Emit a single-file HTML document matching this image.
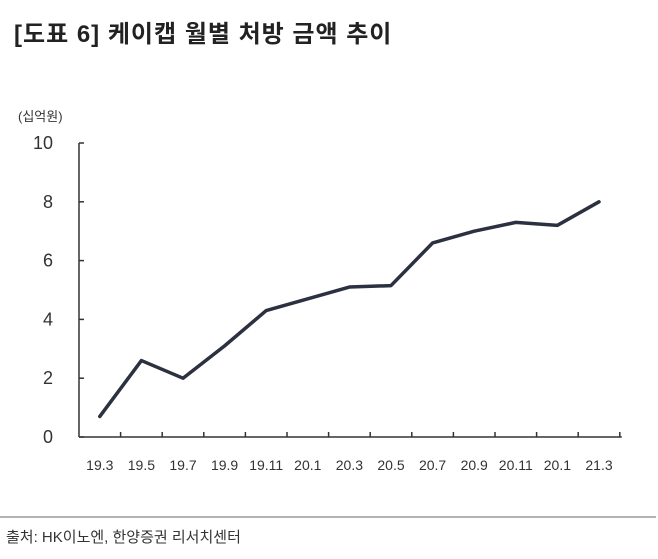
<!DOCTYPE html>
<html><head><meta charset="utf-8"><style>
body{margin:0;background:#fff;width:658px;height:559px;overflow:hidden;font-family:"Liberation Sans","Noto Sans CJK KR",sans-serif}
svg{display:block}
</style></head><body>
<svg width="658" height="559" xmlns="http://www.w3.org/2000/svg" font-family="Liberation Sans, Noto Sans CJK KR, sans-serif">
<text x="14" y="42" font-size="24" font-weight="bold" letter-spacing="1" fill="#222">[도표 6] 케이캡 월별 처방 금액 추이</text>
<text x="18" y="121" font-size="13" fill="#333">(십억원)</text>
<g id="axes"></g>
<line x1="0" y1="517" x2="656" y2="517" stroke="#888" stroke-width="1.2"/>
<text x="6" y="542" font-size="15" fill="#333">출처: HK이노엔, 한양증권 리서치센터</text>
</svg>
<script>
const categories=["19.3","19.5","19.7","19.9","19.11","20.1","20.3","20.5","20.7","20.9","20.11","20.1","21.3"];
const values=[0.7,2.6,2.0,3.1,4.3,4.7,5.1,5.15,6.6,7.0,7.3,7.2,8.0];
const yTicks=[0,2,4,6,8,10];
const NS="http://www.w3.org/2000/svg";
const g=document.getElementById('axes');
const x0=79,band=41.6,yBase=437,yTop=143,yMax=10;
const xs=i=>x0+band*(i+0.5);
const ys=v=>yBase-(v/yMax)*(yBase-yTop);
function mk(t,a){const e=document.createElementNS(NS,t);for(const k in a)e.setAttribute(k,a[k]);g.appendChild(e);return e;}
let e=mk('line',{x1:x0,y1:yTop,x2:x0,y2:yBase,stroke:'#333','stroke-width':1.5});


e=mk('line',{x1:x0,y1:yBase,x2:x0+band*categories.length+2,y2:yBase,stroke:'#333','stroke-width':1.5});


yTicks.forEach(v=>{
 let t=mk('line',{x1:x0,y1:ys(v),x2:x0+5,y2:ys(v),stroke:'#333','stroke-width':1.5});
 
 
 let l=mk('text',{x:53,y:ys(v)+6,'font-size':18,fill:'#333','text-anchor':'end'});
 l.textContent=v;
 
 
});
for(let i=1;i<=categories.length;i++){
 let t=mk('line',{x1:x0+band*i,y1:yBase,x2:x0+band*i,y2:yBase-5,stroke:'#333','stroke-width':1.5});
 
 
}
categories.forEach((c,i)=>{
 let l=mk('text',{x:xs(i),y:470,'font-size':14,fill:'#333','text-anchor':'middle'});
 l.textContent=c;
 
 
});
const pts=values.map((v,i)=>xs(i)+','+ys(v)).join(' ');
e=mk('polyline',{points:pts,fill:'none',stroke:'#2b3140','stroke-width':3.5,'stroke-linejoin':'round','stroke-linecap':'round'});


</script>
</body></html>
